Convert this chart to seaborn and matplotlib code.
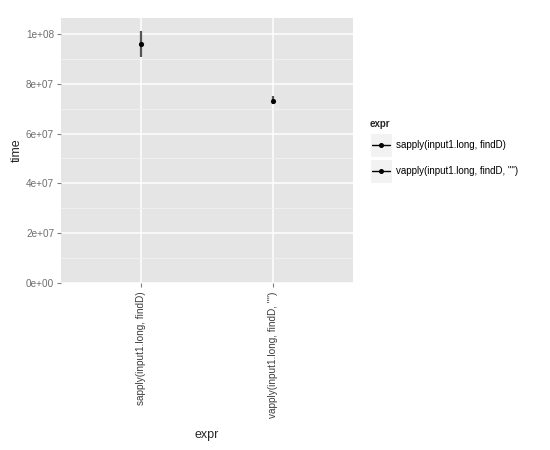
import matplotlib
matplotlib.use("Agg")
import matplotlib.pyplot as plt
from matplotlib.lines import Line2D
from matplotlib.patches import Rectangle
from matplotlib.ticker import MultipleLocator, FuncFormatter
import seaborn as sns
import pandas as pd

# benchmark summary
exprs = ["sapply(input1.long, findD)", 'vapply(input1.long, findD, "")']
mean_time = [96e6, 73e6]
low_time = [90.7e6, 72.0e6]
high_time = [101e6, 75.0e6]

df = pd.DataFrame({"expr": exprs, "time": mean_time, "lo": low_time, "hi": high_time})

sns.set_style("darkgrid", {"axes.facecolor": "#E5E5E5", "grid.color": "white"})
plt.rcParams["font.family"] = ["Liberation Sans", "DejaVu Sans"]

fig = plt.figure(figsize=(5.5, 4.5), dpi=100)
ax = fig.add_axes([0.111, 0.371, 0.531, 0.589])

ax.vlines(df.index, df["lo"], df["hi"], color="#555555", lw=1.6, zorder=3)
sns.scatterplot(data=df, x="expr", y="time", color="black", s=14, linewidth=0,
                legend=False, ax=ax, zorder=4)

ax.set_xlim(-0.6, 1.6)
ax.set_ylim(0, 1.064e8)
ax.yaxis.set_major_locator(MultipleLocator(2e7))
ax.yaxis.set_minor_locator(MultipleLocator(1e7))


def sci(v, pos):
    if v == 0:
        return "0e+00"
    e = len(str(int(round(v)))) - 1
    return "%de+%02d" % (round(v / 10 ** e), e)


ax.yaxis.set_major_formatter(FuncFormatter(sci))
ax.grid(which="major", color="white", lw=1.1)
ax.grid(which="minor", axis="y", color="#F2F2F2", lw=0.6)
for s in ax.spines.values():
    s.set_visible(False)

ax.tick_params(axis="both", which="major", length=3, width=0.8, color="#7F7F7F",
               labelcolor="#6E6E6E", labelsize=7.2, bottom=True, left=True, pad=2)
ax.tick_params(axis="x", labelcolor="#3C3C3C", pad=3)
ax.tick_params(axis="y", which="minor", length=0)
plt.setp(ax.get_xticklabels(), rotation=90, va="top", ha="center")
ax.set_xlabel("expr", fontsize=9, labelpad=8)
ax.set_ylabel("time", fontsize=9, labelpad=2)

# legend, drawn ggplot-style
fig.text(370 / 550, 1 - 124 / 450, "expr", fontsize=7, fontweight="bold", va="center")
for i, lab in enumerate(exprs):
    yc = 145 + i * 26
    fig.patches.append(Rectangle((370 / 550, 1 - (yc + 12) / 450), 22 / 550, 24 / 450,
                                 transform=fig.transFigure, facecolor="#F2F2F2",
                                 edgecolor="white", lw=0.8))
    fig.lines.append(Line2D([372 / 550, 390 / 550], [1 - yc / 450] * 2, transform=fig.transFigure,
                            color="black", lw=1))
    fig.lines.append(Line2D([381 / 550], [1 - yc / 450], transform=fig.transFigure,
                            color="black", marker="o", markersize=2.6, ls="none"))
    fig.text(396 / 550, 1 - yc / 450, lab, fontsize=7, va="center", color="black")

fig.savefig("out.png", dpi=100)
